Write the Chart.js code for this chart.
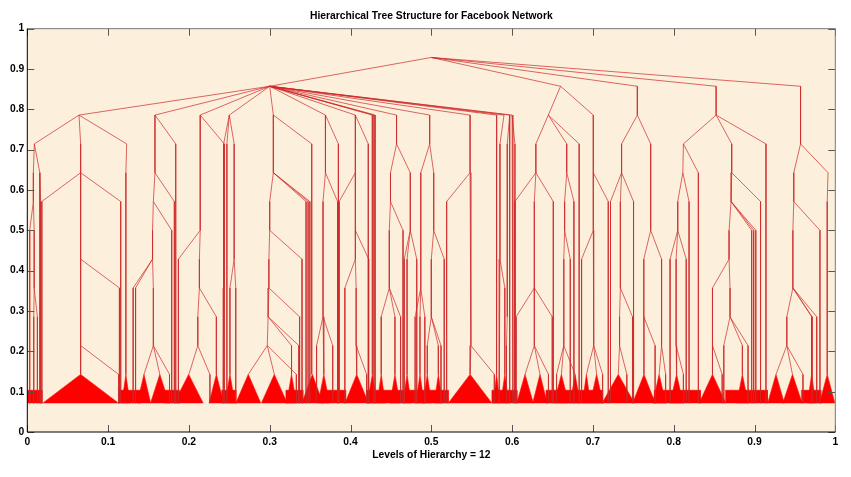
<!DOCTYPE html>
<html>
<head>
<meta charset="utf-8">
<title>Hierarchical Tree Structure for Facebook Network</title>
<script src="https://cdn.jsdelivr.net/npm/chart.js@4.4.1/dist/chart.umd.min.js"></script>
<style>
  html, body { margin: 0; padding: 0; background: #fff; }
  #wrap { width: 851px; height: 477px; }
</style>
</head>
<body>
<div id="wrap"><canvas id="tree" width="851" height="477"></canvas></div>
<script>
// y = level / 14  (13 = root, 1 = leaves)
const levelCount = 14;

const xTicks = [0, 0.1, 0.2, 0.3, 0.4, 0.5, 0.6, 0.7, 0.8, 0.9, 1];
const xTickLabels = ['0', '0.1', '0.2', '0.3', '0.4', '0.5', '0.6', '0.7', '0.8', '0.9', '1'];
const yTicks = [0, 0.1, 0.2, 0.3, 0.4, 0.5, 0.6, 0.7, 0.8, 0.9, 1];
const yTickLabels = ['0', '0.1', '0.2', '0.3', '0.4', '0.5', '0.6', '0.7', '0.8', '0.9', '1'];

// edges: [x parent, level parent, x child, level child]
const rootEdges = [
    [0.5, 13, 0.3, 12], [0.5, 13, 0.66, 12], [0.5, 13, 0.755, 12], [0.5, 13, 0.8525, 12], [0.5, 13, 0.957, 12]
];

const hubEdges = [
    [0.3, 12, 0.064, 11], [0.3, 12, 0.158, 11], [0.3, 12, 0.214, 11], [0.3, 12, 0.25, 11],
    [0.3, 12, 0.3045, 11], [0.3, 12, 0.369, 11], [0.3, 12, 0.406, 11], [0.3, 12, 0.429, 1],
    [0.3, 12, 0.4305, 1], [0.3, 12, 0.427, 2], [0.3, 12, 0.457, 10], [0.3, 12, 0.498, 10],
    [0.3, 12, 0.548, 9], [0.3, 12, 0.581, 11], [0.3, 12, 0.59, 11], [0.3, 12, 0.597, 11], [0.3, 12, 0.6, 11]
];

const leftEdges = [
    [0.064, 11, 0.0087, 10], [0.0087, 10, 0.0075, 8], [0.0075, 8, 0.003, 1], [0.0075, 8, 0.0085, 5],
    [0.0085, 5, 0.008, 1], [0.0085, 5, 0.0125, 1], [0.0087, 10, 0.0155, 9], [0.0155, 9, 0.0155, 1],
    [0.0155, 9, 0.0165, 1], [0.064, 11, 0.123, 10], [0.123, 10, 0.122, 2],
    [0.064, 11, 0.066, 9], [0.066, 9, 0.018, 1], [0.066, 9, 0.1156, 1], [0.066, 9, 0.066, 6],
    [0.066, 6, 0.114, 1], [0.066, 6, 0.066, 3], [0.066, 3, 0.113, 1], [0.066, 3, 0.066, 2]
];

const midEdges = [
    [0.158, 11, 0.1837, 1], [0.158, 11, 0.158, 9], [0.158, 9, 0.182, 1], [0.158, 9, 0.156, 8],
    [0.156, 8, 0.1787, 1], [0.156, 8, 0.155, 6], [0.155, 6, 0.131, 1], [0.155, 6, 0.134, 1],
    [0.155, 6, 0.156, 3], [0.156, 3, 0.1444, 2], [0.156, 3, 0.164, 2], [0.156, 3, 0.176, 1],
    [0.214, 11, 0.2438, 1], [0.214, 11, 0.214, 7], [0.214, 7, 0.187, 1], [0.214, 7, 0.213, 5],
    [0.213, 5, 0.234, 2], [0.213, 5, 0.211, 3], [0.211, 3, 0.2, 2], [0.211, 3, 0.226, 1],
    [0.25, 11, 0.247, 1], [0.25, 11, 0.256, 6], [0.256, 6, 0.2508, 2], [0.256, 6, 0.258, 1],
    [0.25, 11, 0.243, 5], [0.243, 5, 0.2425, 1]
];

const centerEdges = [
    [0.3045, 11, 0.352, 2], [0.3045, 11, 0.3045, 9], [0.3045, 9, 0.3497, 1], [0.3045, 9, 0.3475, 1],
    [0.3045, 9, 0.345, 1], [0.3045, 9, 0.3, 7], [0.3, 7, 0.34, 1], [0.3, 7, 0.299, 5],
    [0.299, 5, 0.337, 1], [0.299, 5, 0.298, 4], [0.298, 4, 0.336, 1], [0.298, 4, 0.327, 2],
    [0.298, 4, 0.297, 3], [0.297, 3, 0.2735, 2], [0.297, 3, 0.3057, 2], [0.297, 3, 0.333, 1],
    [0.369, 11, 0.385, 1], [0.369, 11, 0.369, 9], [0.369, 9, 0.384, 1], [0.369, 9, 0.366, 4],
    [0.366, 4, 0.358, 1], [0.366, 4, 0.367, 2], [0.366, 4, 0.378, 1],
    [0.406, 11, 0.422, 1], [0.406, 11, 0.406, 9], [0.406, 9, 0.386, 1], [0.406, 9, 0.406, 7],
    [0.406, 7, 0.4225, 1], [0.406, 7, 0.406, 6], [0.406, 6, 0.393, 1], [0.406, 6, 0.407, 3],
    [0.407, 3, 0.4077, 2], [0.407, 3, 0.42, 1]
];

const hubRightEdges = [
    [0.457, 10, 0.4495, 9], [0.457, 10, 0.474, 9], [0.4495, 9, 0.4495, 8], [0.4495, 8, 0.465, 1],
    [0.4495, 8, 0.448, 5], [0.448, 5, 0.438, 2], [0.448, 5, 0.455, 2], [0.448, 5, 0.462, 1],
    [0.474, 9, 0.474, 7], [0.474, 7, 0.4665, 1], [0.474, 7, 0.47, 2], [0.474, 7, 0.482, 1],
    [0.498, 10, 0.487, 9], [0.498, 10, 0.503, 9], [0.503, 9, 0.503, 7], [0.503, 7, 0.516, 1],
    [0.503, 7, 0.5, 4], [0.5, 4, 0.495, 2], [0.5, 4, 0.5087, 2], [0.5, 4, 0.512, 1],
    [0.487, 9, 0.487, 5], [0.487, 5, 0.486, 2], [0.487, 5, 0.48, 1], [0.487, 5, 0.492, 1],
    [0.548, 9, 0.519, 1], [0.548, 9, 0.549, 3], [0.549, 3, 0.548, 2], [0.549, 3, 0.578, 1],
    [0.581, 11, 0.5808, 2], [0.59, 11, 0.585, 6], [0.585, 6, 0.584, 1], [0.585, 6, 0.591, 2],
    [0.597, 11, 0.597, 1], [0.597, 11, 0.594, 4], [0.594, 4, 0.593, 1], [0.6, 11, 0.601, 1], [0.6, 11, 0.6035, 1]
];

const rightEdges = [
    [0.66, 12, 0.6448, 11], [0.6448, 11, 0.6294, 9], [0.6294, 9, 0.6035, 1], [0.6294, 9, 0.651, 1],
    [0.6294, 9, 0.6275, 5], [0.6275, 5, 0.605, 1], [0.6275, 5, 0.6497, 1], [0.6275, 5, 0.6275, 3],
    [0.6275, 3, 0.616, 2], [0.6275, 3, 0.6345, 2], [0.6275, 3, 0.645, 1], [0.6448, 11, 0.6676, 9],
    [0.6676, 9, 0.6765, 1], [0.6676, 9, 0.665, 7], [0.665, 7, 0.672, 1], [0.665, 7, 0.664, 3],
    [0.664, 3, 0.661, 2], [0.664, 3, 0.678, 2], [0.664, 3, 0.655, 1], [0.6448, 11, 0.683, 1],
    [0.66, 12, 0.7005, 11], [0.7005, 11, 0.7005, 9], [0.7005, 9, 0.719, 1], [0.7005, 9, 0.7005, 7],
    [0.7005, 7, 0.686, 1], [0.7005, 7, 0.701, 3], [0.701, 3, 0.692, 2], [0.701, 3, 0.7046, 2], [0.701, 3, 0.712, 1],
    [0.755, 12, 0.755, 11], [0.755, 11, 0.7355, 9], [0.7355, 9, 0.7218, 1], [0.7355, 9, 0.7503, 1],
    [0.7355, 9, 0.734, 5], [0.734, 5, 0.749, 1], [0.734, 5, 0.733, 3], [0.733, 3, 0.7314, 2],
    [0.733, 3, 0.742, 1], [0.755, 11, 0.7715, 7], [0.7715, 7, 0.763, 4], [0.763, 4, 0.7632, 2],
    [0.763, 4, 0.777, 1], [0.7715, 7, 0.785, 3], [0.785, 3, 0.782, 2], [0.785, 3, 0.79, 1]
];

const farRightEdges = [
    [0.8525, 12, 0.8525, 11], [0.8525, 11, 0.812, 10], [0.812, 10, 0.8305, 1], [0.812, 10, 0.8113, 9],
    [0.8113, 9, 0.819, 1], [0.8113, 9, 0.805, 7], [0.805, 7, 0.7955, 1], [0.805, 7, 0.803, 3],
    [0.803, 3, 0.8036, 2], [0.803, 3, 0.812, 1], [0.805, 7, 0.8155, 1], [0.8525, 11, 0.8718, 9],
    [0.8718, 9, 0.9075, 1], [0.8718, 9, 0.871, 8], [0.871, 8, 0.9016, 1], [0.871, 8, 0.899, 1],
    [0.871, 8, 0.8965, 1], [0.871, 8, 0.8685, 6], [0.8685, 6, 0.848, 3], [0.848, 3, 0.848, 2],
    [0.848, 3, 0.86, 1], [0.8685, 6, 0.8697, 4], [0.8697, 4, 0.862, 1], [0.8697, 4, 0.885, 2],
    [0.8697, 4, 0.892, 1], [0.8525, 11, 0.9142, 1],
    [0.957, 12, 0.957, 10], [0.957, 10, 0.991, 9], [0.991, 9, 0.99, 2], [0.957, 10, 0.9486, 8],
    [0.9486, 8, 0.981, 1], [0.9486, 8, 0.9475, 5], [0.9475, 5, 0.9713, 1], [0.9475, 5, 0.977, 1],
    [0.9475, 5, 0.9707, 2], [0.9475, 5, 0.94, 3], [0.94, 3, 0.9266, 2], [0.94, 3, 0.947, 2], [0.94, 3, 0.96, 1]
];

// leaf clusters at level 2 (center, half width)
const clusterX = [0.066, 0.122, 0.1444, 0.164, 0.1997, 0.234, 0.2508, 0.2735, 0.3057, 0.327, 0.3528, 0.367,
    0.4077, 0.427, 0.438, 0.455, 0.47, 0.486, 0.495, 0.5087, 0.548, 0.5808, 0.591, 0.616, 0.6345, 0.661,
    0.678, 0.692, 0.7046, 0.7314, 0.7632, 0.782, 0.8036, 0.848, 0.885, 0.9266, 0.947, 0.9707, 0.99];
const clusterHalf = [0.047, 0.005, 0.0083, 0.0115, 0.018, 0.009, 0.006, 0.0155, 0.016, 0.006, 0.013, 0.007,
    0.0145, 0.006, 0.005, 0.006, 0.005, 0.005, 0.005, 0.005, 0.027, 0.004, 0.005, 0.0103, 0.009, 0.009,
    0.006, 0.005, 0.008, 0.02, 0.014, 0.008, 0.008, 0.0165, 0.007, 0.0103, 0.012, 0.005, 0.0095];

// dense leaf bands
const bandFrom = [0, 0.113, 0.17, 0.2405, 0.32, 0.364, 0.42, 0.575, 0.642, 0.776, 0.864, 0.958];
const bandTo = [0.018, 0.14, 0.188, 0.258, 0.341, 0.394, 0.521, 0.606, 0.712, 0.833, 0.916, 0.982];
const bandLevel = 1.45;

const allEdges = [].concat(rootEdges, hubEdges, leftEdges, midEdges, centerEdges, hubRightEdges, rightEdges, farRightEdges);
const toY = lv => lv / levelCount;
const RED = '#ff0000';

// lineas del arbol
const edgePoints = [];
allEdges.forEach(([x0, l0, x1, l1]) => {
    edgePoints.push({ x: x0, y: toY(l0) }, { x: x1, y: toY(l0 - 1) }, { x: x1, y: toY(l1) }, { x: x1, y: null });
});

const clusterSets = clusterX.map((cx, i) => ({
    data: [{ x: cx - clusterHalf[i], y: toY(1) }, { x: cx, y: toY(2) }, { x: cx + clusterHalf[i], y: toY(1) }],
    fill: { value: toY(1) },
    backgroundColor: RED, borderColor: RED, borderWidth: 0.6, pointRadius: 0
}));

const bandSets = bandFrom.map((x0, i) => ({
    data: [{ x: x0, y: toY(1) }, { x: x0, y: toY(bandLevel) }, { x: bandTo[i], y: toY(bandLevel) }, { x: bandTo[i], y: toY(1) }],
    fill: { value: toY(1) },
    backgroundColor: RED, borderColor: RED, borderWidth: 0.6, pointRadius: 0
}));

const boldFont = { family: 'Liberation Sans', size: 10.3, weight: 'bold' };

// fondo, marco y ticks hacia dentro
const plotFrame = {
    id: 'plotFrame',
    beforeDraw(chart) {
        const { ctx, chartArea: a } = chart;
        ctx.save();
        ctx.fillStyle = '#fff';
        ctx.fillRect(0, 0, chart.width, chart.height);
        ctx.fillStyle = '#fcf0dc';
        ctx.fillRect(a.left, a.top, a.right - a.left, a.bottom - a.top);
        ctx.restore();
    },
    afterDraw(chart) {
        const { ctx, chartArea: a, scales: { x, y } } = chart;
        ctx.save();
        ctx.lineWidth = 1;
        ctx.strokeStyle = '#555';
        ctx.beginPath();
        xTicks.forEach(v => {
            const px = Math.round(x.getPixelForValue(v)) + 0.5;
            ctx.moveTo(px, a.bottom); ctx.lineTo(px, a.bottom - 7);
            ctx.moveTo(px, a.top); ctx.lineTo(px, a.top + 7);
        });
        yTicks.forEach(v => {
            const py = Math.round(y.getPixelForValue(v)) + 0.5;
            ctx.moveTo(a.left, py); ctx.lineTo(a.left + 7, py);
            ctx.moveTo(a.right, py); ctx.lineTo(a.right - 7, py);
        });
        ctx.stroke();
        ctx.strokeStyle = '#777';
        ctx.beginPath();
        ctx.moveTo(a.left, a.top); ctx.lineTo(a.right, a.top); ctx.lineTo(a.right, a.bottom);
        ctx.stroke();
        ctx.strokeStyle = '#000';
        ctx.beginPath();
        ctx.moveTo(a.left, a.top); ctx.lineTo(a.left, a.bottom); ctx.lineTo(a.right, a.bottom);
        ctx.stroke();
        ctx.restore();
    }
};

new Chart(document.getElementById('tree'), {
    type: 'line',
    data: {
        datasets: [
            {
                data: edgePoints,
                borderColor: 'rgba(205, 40, 40, 0.7)',
                borderWidth: 1,
                pointRadius: 0,
                spanGaps: false,
                fill: false,
                tension: 0
            },
            ...clusterSets,
            ...bandSets
        ]
    },
    options: {
        responsive: false,
        animation: false,
        events: [],
        layout: { padding: { left: 0, right: 15.7, top: 0, bottom: 0 } },
        plugins: {
            legend: { display: false },
            tooltip: { enabled: false },
            title: {
                display: true,
                text: 'Hierarchical Tree Structure for Facebook Network',
                color: '#000',
                font: boldFont,
                fullSize: false,
                padding: { top: 10, bottom: 6.3 }
            }
        },
        scales: {
            x: {
                type: 'linear',
                min: 0, max: 1,
                grid: { display: false, drawTicks: false },
                border: { display: false },
                afterBuildTicks: s => { s.ticks = xTicks.map(v => ({ value: v })); },
                afterFit: s => { s.height = 45; },
                ticks: {
                    color: '#000', font: boldFont, padding: 4,
                    maxRotation: 0, autoSkip: false,
                    callback: (v, i) => xTickLabels[i]
                },
                title: {
                    display: true,
                    text: 'Levels of Hierarchy = 12',
                    color: '#000',
                    font: boldFont,
                    padding: { top: 0, bottom: 16 }
                }
            },
            y: {
                type: 'linear',
                min: 0, max: 1,
                grid: { display: false, drawTicks: false },
                border: { display: false },
                afterBuildTicks: s => { s.ticks = yTicks.map(v => ({ value: v })); },
                afterFit: s => { s.width = 27.3; },
                ticks: {
                    color: '#000', font: boldFont, padding: 3,
                    callback: (v, i) => yTickLabels[i]
                }
            }
        }
    },
    plugins: [plotFrame]
});
</script>
</body>
</html>
